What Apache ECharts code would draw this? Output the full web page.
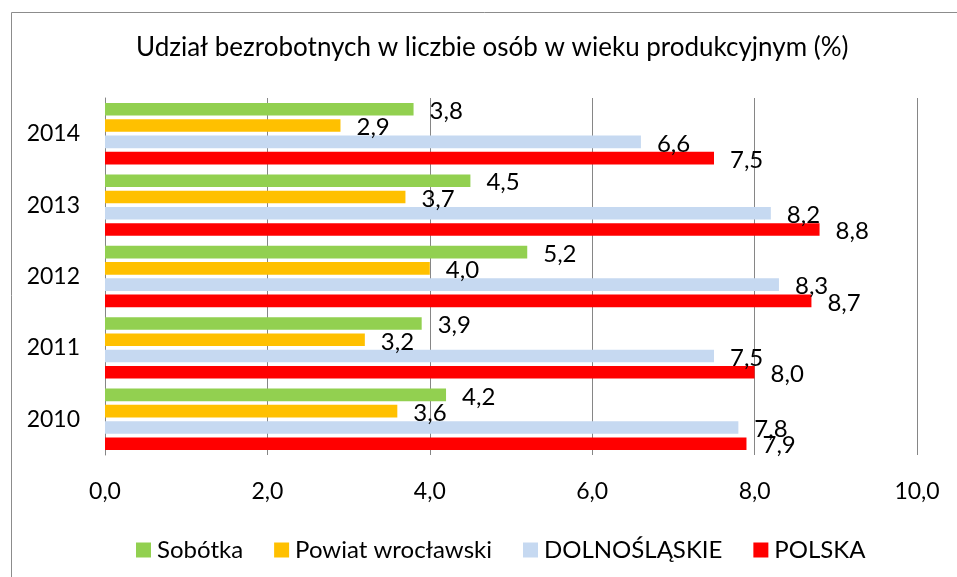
<!DOCTYPE html>
<html>
<head>
<meta charset="utf-8">
<script src="https://cdn.jsdelivr.net/npm/echarts@6/dist/echarts.min.js"></script>
<style>html,body{margin:0;padding:0;background:#fff;}#c{width:957px;height:577px;}</style>
</head>
<body>
<div id="c"></div>
<script>
const categories = ['2010', '2011', '2012', '2013', '2014'];
const seriesNames = ['Sobótka', 'Powiat wrocławski', 'DOLNOŚLĄSKIE', 'POLSKA'];
const sobotka = [4.2, 3.9, 5.2, 4.5, 3.8];
const powiat = [3.6, 3.2, 4.0, 3.7, 2.9];
const dolnoslaskie = [7.8, 7.5, 8.3, 8.2, 6.6];
const polska = [7.9, 8.0, 8.7, 8.8, 7.5];
const colors = ['#92D050', '#FFC000', '#C6D9F1', '#FF0000'];
const titleText = 'Udział bezrobotnych w liczbie osób w wieku produkcyjnym (%)';

const FONT = 'Lato';
const fmt = v => Number(v).toFixed(1).replace('.', ',');
const values = [sobotka, powiat, dolnoslaskie, polska];

const chart = echarts.init(document.getElementById('c'), null, {renderer: 'canvas'});
chart.setOption({
  animation: false,
  backgroundColor: '#fff',
  graphic: [{
    type: 'rect', left: 9, top: 10, silent: true,
    shape: {x: 0, y: 0, width: 1000, height: 1000},
    style: {fill: 'none', stroke: '#8c8c8c', lineWidth: 1}
  }],
  title: {
    text: titleText, left: 131, top: 30,
    textStyle: {fontFamily: FONT, fontSize: 26, fontWeight: 'normal', color: '#000'}
  },
  legend: {
    data: seriesNames, left: 131, top: 533, itemWidth: 15, itemHeight: 15, itemGap: 31,
    icon: 'rect',
    textStyle: {fontFamily: FONT, fontSize: 24, color: '#000', padding: [0, 0, 0, 1]}
  },
  grid: {left: 105, right: 40, top: 98, bottom: 122, containLabel: false},
  xAxis: {
    type: 'value', min: 0, max: 10, interval: 2,
    axisLine: {show: false}, axisTick: {show: false},
    splitLine: {show: true, lineStyle: {color: '#868686', width: 1}},
    axisLabel: {formatter: fmt, fontFamily: FONT, fontSize: 23, color: '#000', margin: 25}
  },
  yAxis: {
    type: 'category', data: categories,
    axisLine: {show: true, lineStyle: {color: '#868686', width: 1}},
    axisTick: {show: false},
    axisLabel: {fontFamily: FONT, fontSize: 23, color: '#000', margin: 25}
  },
  series: seriesNames.map((n, i) => ({
    name: n, type: 'bar', data: values[i],
    barWidth: 12.6, barGap: '29%',
    itemStyle: {color: colors[i]},
    label: {show: true, position: 'right', distance: 16, offset: [0, 2], formatter: p => fmt(p.value),
      fontFamily: FONT, fontSize: 24, color: '#000'}
  }))
});
</script>
</body>
</html>
